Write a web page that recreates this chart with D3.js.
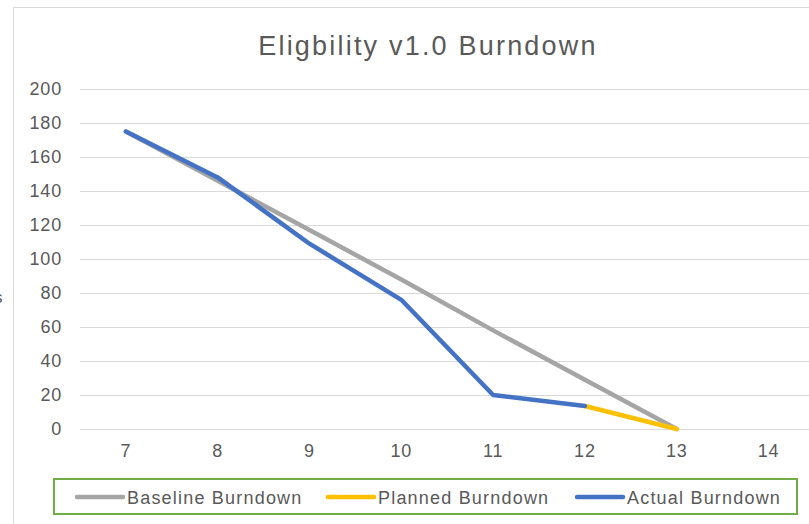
<!DOCTYPE html>
<html>
<head>
<meta charset="utf-8">
<script src="https://cdn.jsdelivr.net/npm/d3@7/dist/d3.min.js"></script>
<style>
body { margin: 0; background: #fff; overflow: hidden; }
text { font-family: "Liberation Sans", Arial, sans-serif; fill: #595959; }
</style>
</head>
<body>
<script>
var sprints = [7, 8, 9, 10, 11, 12, 13, 14];
var baseline = [175, 146, 117, 88, 58, 29, 0];
var actual = [175, 148, 109, 76, 20, 13.5];
var plannedSprints = [12, 13];
var planned = [13.5, 0];
var yTicks = [0, 20, 40, 60, 80, 100, 120, 140, 160, 180, 200];

var width = 809, height = 524;

var svg = d3.select("body").append("svg")
	.attr("width", width)
	.attr("height", height);

// chart area border, runs off the right and bottom edges
svg.append("rect")
	.attr("x", 13.5).attr("y", 7.5)
	.attr("width", 900).attr("height", 600)
	.attr("fill", "#fff")
	.attr("stroke", "#d9d9d9");

// clipped glyph of the axis title on the far left
svg.append("text")
	.attr("x", -6).attr("y", 303)
	.attr("font-size", 17)
	.attr("fill", "#404040")
	.text("s");

var x = d3.scaleBand()
	.domain(sprints)
	.range([80, 80 + 8 * 91.8]);

var y = d3.scaleLinear()
	.domain([0, 200])
	.range([429, 89]);

var cx = function (s) { return x(s) + x.bandwidth() / 2; };

// gridlines
svg.append("g").selectAll("line")
	.data(yTicks)
	.enter()
	.append("line")
	.attr("x1", 80).attr("x2", 820)
	.attr("y1", function (d) { return Math.round(y(d)) + 0.5; })
	.attr("y2", function (d) { return Math.round(y(d)) + 0.5; })
	.attr("stroke", "#d9d9d9")
	.attr("stroke-width", 1);

// y labels
var yAxis = svg.append("g")
	.attr("transform", "translate(68,0)")
	.call(d3.axisLeft(y).tickValues(yTicks).tickSize(0).tickPadding(6));
yAxis.select(".domain").remove();
yAxis.selectAll("text")
	.attr("font-size", 18)
	.attr("letter-spacing", 0.8)
	.style("font-family", "Liberation Sans, Arial, sans-serif")
	.attr("fill", "#595959");

// x labels
var xAxis = svg.append("g")
	.attr("transform", "translate(0,429)")
	.call(d3.axisBottom(x).tickSize(0).tickPadding(15));
xAxis.select(".domain").remove();
xAxis.selectAll("text")
	.attr("font-size", 18)
	.attr("letter-spacing", 0.8)
	.style("font-family", "Liberation Sans, Arial, sans-serif")
	.attr("fill", "#595959");

// title
svg.append("text")
	.attr("x", 428).attr("y", 55)
	.attr("text-anchor", "middle")
	.attr("font-size", 27)
	.attr("letter-spacing", 2.2)
	.text("Eligbility v1.0 Burndown");

var line = d3.line()
	.x(function (d) { return cx(d[0]); })
	.y(function (d) { return y(d[1]); });

var series = [
	{ name: "Baseline Burndown", color: "#a5a5a5", pts: d3.zip(sprints.slice(0, baseline.length), baseline) },
	{ name: "Planned Burndown", color: "#ffc000", pts: d3.zip(plannedSprints, planned) },
	{ name: "Actual Burndown", color: "#4472c4", pts: d3.zip(sprints.slice(0, actual.length), actual) }
];

svg.append("g").selectAll("path")
	.data(series)
	.enter()
	.append("path")
	.attr("d", function (d) { return line(d.pts); })
	.attr("fill", "none")
	.attr("stroke", function (d) { return d.color; })
	.attr("stroke-width", 4.5)
	.attr("stroke-linecap", "round")
	.attr("stroke-linejoin", "round");

// legend
svg.append("rect")
	.attr("x", 54).attr("y", 479)
	.attr("width", 743).attr("height", 35)
	.attr("fill", "#fff")
	.attr("stroke", "#70ad47")
	.attr("stroke-width", 2);

var legendX = [77, 328, 577];
var legend = svg.append("g").selectAll("g")
	.data(series)
	.enter()
	.append("g")
	.attr("transform", function (d, i) { return "translate(" + legendX[i] + ",497)"; });
legend.append("line")
	.attr("x1", 0).attr("x2", 46)
	.attr("stroke", function (d) { return d.color; })
	.attr("stroke-width", 4.5)
	.attr("stroke-linecap", "round");
legend.append("text")
	.attr("x", 50).attr("y", 6.5)
	.attr("font-size", 18)
	.attr("letter-spacing", 1.2)
	.text(function (d) { return d.name; });
</script>
</body>
</html>
